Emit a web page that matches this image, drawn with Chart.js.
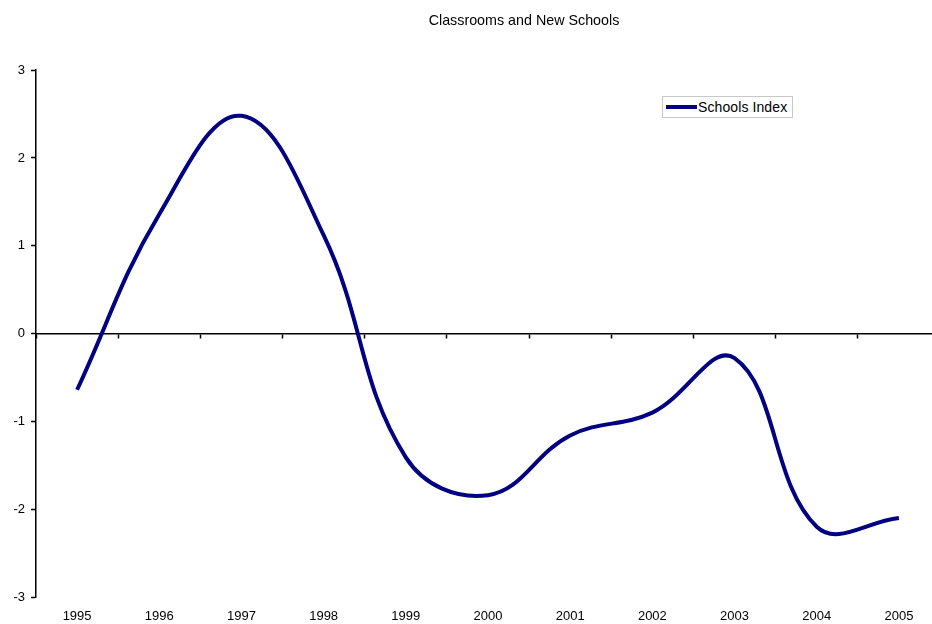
<!DOCTYPE html>
<html>
<head>
<meta charset="utf-8">
<script src="https://cdn.jsdelivr.net/npm/chart.js@4/dist/chart.umd.min.js"></script>
<style>
  html, body { margin: 0; padding: 0; background: #fff; overflow: hidden; }
  #wrap { position: relative; width: 932px; height: 624px; overflow: hidden; }
  #c { position: absolute; left: 0; top: 0; }
  #legend { position: absolute; left: 662px; top: 96px; width: 129px; height: 20px;
            border: 1px solid #c8c8c8; background: #fff; font-family: "Liberation Sans", Arial, sans-serif;
            font-size: 14px; color: #000; }
  #legend .ln { position: absolute; left: 3px; top: 8px; width: 31px; height: 4px; background: #000080; }
  #legend .tx { position: absolute; left: 35px; top: 1px; line-height: 18px; white-space: nowrap; letter-spacing: 0.1px; }
</style>
</head>
<body>
<div id="wrap">
  <canvas id="c" width="1048" height="624"></canvas>
  <div id="legend"><span class="ln"></span><span class="tx">Schools Index</span></div>
</div>
<script>
const chartTitle = "Classrooms and New Schools";
const seriesName = "Schools Index";
const years = ["1995","1996","1997","1998","1999","2000","2001","2002","2003","2004","2005"];
const schoolsIndex = [-0.64, 1.36, 2.48, 1.12, -1.41, -1.84, -1.16, -0.90, -0.28, -2.20, -2.10];
const yMin = -3, yMax = 3, yStep = 1;

const FONT = "'Liberation Sans', Arial, sans-serif";

new Chart(document.getElementById('c'), {
  type: 'line',
  data: {
    labels: years,
    datasets: [{
      label: seriesName,
      data: schoolsIndex,
      borderColor: '#000080',
      backgroundColor: '#000080',
      borderWidth: 4,
      pointRadius: 0,
      tension: 0.4,
      fill: false
    }]
  },
  options: {
    responsive: false,
    animation: false,
    devicePixelRatio: 1,
    layout: { padding: 0 },
    plugins: {
      legend: { display: false },
      tooltip: { enabled: false },
      title: {
        display: true,
        text: chartTitle,
        color: '#000',
        font: { family: FONT, size: 14.3, weight: 'normal' },
        padding: { top: 12.6, bottom: 40.4 }
      }
    },
    scales: {
      x: {
        type: 'category',
        position: 'bottom',
        offset: true,
        grid: { display: false, drawTicks: false, offset: true },
        border: { display: false },
        ticks: { color: '#000', font: { family: FONT, size: 13 }, padding: 12, maxRotation: 0, autoSkip: false },
        afterFit: s => { s.height = 27; }
      },
      x2: {
        type: 'category',
        axis: 'x',
        position: { y: 0 },
        offset: true,
        grid: { display: true, drawOnChartArea: false, drawTicks: true, tickLength: 4, tickColor: '#000', tickWidth: 1.5, offset: true },
        border: { display: true, color: '#000', width: 1.5 },
        ticks: { display: false }
      },
      y: {
        type: 'linear',
        position: 'left',
        min: yMin,
        max: yMax,
        ticks: { stepSize: yStep, color: '#000', font: { family: FONT, size: 13 }, padding: 6 },
        grid: { display: true, drawOnChartArea: false, drawTicks: true, tickLength: 5, tickColor: '#000', tickWidth: 1.5 },
        border: { display: true, color: '#000', width: 1.5 },
        afterFit: s => { s.width = 36; }
      },
      yRightSpace: {
        type: 'linear',
        axis: 'y',
        position: 'right',
        display: true,
        grid: { display: false, drawTicks: false },
        border: { display: false },
        ticks: { display: false },
        afterFit: s => { s.width = 108; }
      }
    }
  }
});
</script>
</body>
</html>
